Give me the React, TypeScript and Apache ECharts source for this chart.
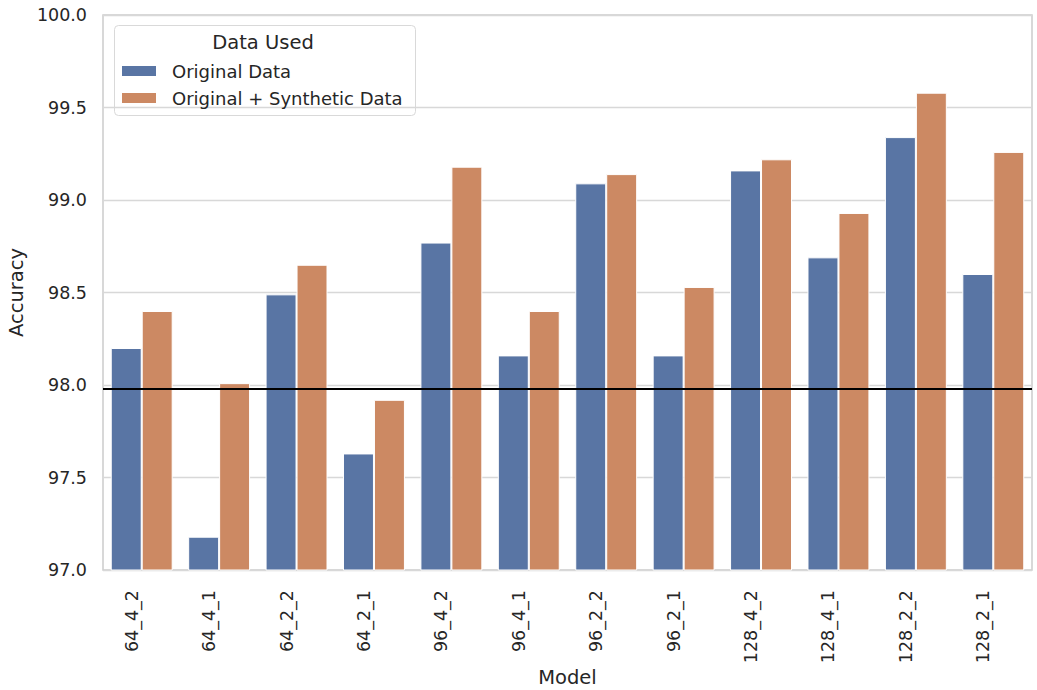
import React, { useEffect, useRef } from "react";
import * as echarts from "echarts";

const categories = ["64_4_2", "64_4_1", "64_2_2", "64_2_1", "96_4_2", "96_4_1", "96_2_2", "96_2_1", "128_4_2", "128_4_1", "128_2_2", "128_2_1"];
const originalData = [98.2, 97.18, 98.49, 97.63, 98.77, 98.16, 99.09, 98.16, 99.16, 98.69, 99.34, 98.6];
const syntheticData = [98.4, 98.01, 98.65, 97.92, 99.18, 98.4, 99.14, 98.53, 99.22, 98.93, 99.58, 99.26];
const baseline = 97.98;
const seriesNames = ["Original Data", "Original + Synthetic Data"];
const legendTitle = "Data Used";

const FONT = "DejaVu Sans";
const TXT = "#262626";

export default function App() {
  const ref = useRef<HTMLDivElement>(null);
  useEffect(() => {
    if (!ref.current) return;
    const chart = echarts.init(ref.current, undefined, { renderer: "svg" });
    chart.setOption({
      animation: false,
      backgroundColor: "#ffffff",
      textStyle: { fontFamily: FONT },
      grid: {
        left: 103,
        right: 5,
        top: 15,
        bottom: 120,
        containLabel: false,
        outerBoundsMode: "none",
        show: true,
        borderColor: "#cccccc",
        borderWidth: 1.5,
        backgroundColor: "transparent",
      },
      xAxis: {
        type: "category",
        data: categories,
        name: "Model",
        nameLocation: "middle",
        nameGap: 97,
        nameMoveOverlap: false,
        nameTextStyle: { fontFamily: FONT, fontSize: 19.5, color: TXT },
        axisLine: { show: false },
        axisTick: { show: false },
        splitLine: { show: false },
        axisLabel: {
          rotate: 90,
          margin: 20,
          fontFamily: FONT,
          fontSize: 17.5,
          color: TXT,
          verticalAlign: "bottom",
          lineHeight: 20,
        },
      },
      yAxis: {
        type: "value",
        min: 97,
        max: 100,
        interval: 0.5,
        name: "Accuracy",
        nameLocation: "middle",
        nameGap: 77,
        nameMoveOverlap: false,
        nameTextStyle: { fontFamily: FONT, fontSize: 19.5, color: TXT },
        axisLine: { show: false },
        axisTick: { show: false },
        axisLabel: {
          margin: 16,
          fontFamily: FONT,
          fontSize: 17.5,
          color: TXT,
          formatter: (v: number) => v.toFixed(1),
        },
        splitLine: { show: true, lineStyle: { color: "#d8d8d8", width: 1.3 } },
      },
      legend: {
        orient: "vertical",
        left: 122,
        top: 61,
        padding: 0,
        itemGap: 7,
        itemWidth: 34,
        itemHeight: 10,
        icon: "rect",
        itemStyle: { borderWidth: 0 },
        textStyle: { fontFamily: FONT, fontSize: 18, color: TXT, lineHeight: 20, padding: [0, 0, 0, 11] },
        data: seriesNames,
      },
      graphic: [
        {
          type: "rect",
          left: 114,
          top: 25,
          z: 0,
          shape: { width: 301, height: 90, r: 4 },
          style: { fill: "rgba(255,255,255,0.85)", stroke: "#d9d9d9", lineWidth: 1 },
        },
        {
          type: "text",
          x: 263,
          y: 42,
          z: 10,
          style: {
            text: legendTitle,
            fontFamily: FONT,
            fontSize: 19.5,
            fill: TXT,
            align: "center",
            verticalAlign: "middle",
          },
        },
      ],
      series: [
        {
          name: seriesNames[0],
          type: "bar",
          data: originalData,
          barGap: "0%",
          barCategoryGap: "20%",
          itemStyle: { color: "#5975a4", borderColor: "#ffffff", borderWidth: 1 },
          markLine: {
            silent: true,
            symbol: "none",
            label: { show: false },
            lineStyle: { color: "#000000", width: 2, type: "solid" },
            data: [{ yAxis: baseline }],
          },
        },
        {
          name: seriesNames[1],
          type: "bar",
          data: syntheticData,
          barGap: "0%",
          barCategoryGap: "20%",
          itemStyle: { color: "#cc8963", borderColor: "#ffffff", borderWidth: 1 },
        },
      ],
    });
    return () => chart.dispose();
  }, []);
  return (
    <div
      ref={ref}
      style={{ position: "fixed", left: 0, top: 0, width: 1037, height: 690 }}
    />
  );
}
